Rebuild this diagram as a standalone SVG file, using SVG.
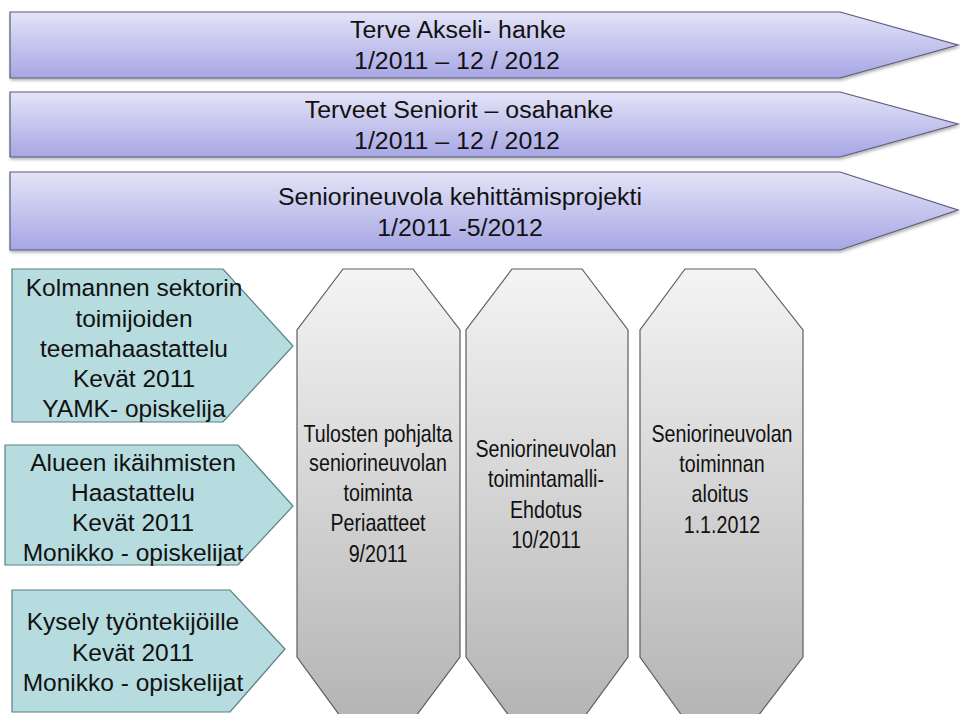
<svg xmlns="http://www.w3.org/2000/svg" width="960" height="714" viewBox="0 0 960 714">
<defs>
<linearGradient id="gBan" x1="0" y1="0" x2="0" y2="1">
<stop offset="0" stop-color="#e4e4f8"/>
<stop offset="1" stop-color="#a6a6e4"/>
</linearGradient>
<linearGradient id="gOct" x1="0" y1="0" x2="0" y2="1">
<stop offset="0" stop-color="#f4f4f4"/>
<stop offset="1" stop-color="#b4b4b4"/>
</linearGradient>
<filter id="sh" x="-5%" y="-10%" width="110%" height="130%">
<feDropShadow dx="1" dy="2" stdDeviation="1.5" flood-color="#000" flood-opacity="0.3"/>
</filter>
</defs>
<style>
.ban{fill:url(#gBan);stroke:#5a5a7a;stroke-width:1.2;filter:url(#sh)}
.tea{fill:#b6dcdf;stroke:#5c7e82;stroke-width:1.2}
.oct{fill:url(#gOct);stroke:#5e5e5e;stroke-width:1.2}
.tb{font-family:"Liberation Sans",Arial,sans-serif;font-size:23.5px;fill:#111;text-anchor:middle}
.to{font-family:"Liberation Sans",Arial,sans-serif;font-size:24px;fill:#111;text-anchor:middle}
.tw{font-family:"Liberation Sans",Arial,sans-serif;font-size:24.5px;fill:#111;text-anchor:middle}
</style>
<rect width="960" height="714" fill="#fff"/>
<g id="banner1">
<polygon class="ban" points="10,12 840,12 958,45 840,78 10,78"/>
<text class="tb" transform="translate(458,38) scale(1.06,1)">Terve Akseli- hanke</text>
<text class="tb" transform="translate(457,69) scale(1.06,1)">1/2011 – 12 / 2012</text>
</g>
<g id="banner2">
<polygon class="ban" points="10,92 840,92 958,124 840,157 10,157"/>
<text class="tb" transform="translate(459,118) scale(1.06,1)">Terveet Seniorit – osahanke</text>
<text class="tb" transform="translate(457,149) scale(1.06,1)">1/2011 – 12 / 2012</text>
</g>
<g id="banner3">
<polygon class="ban" points="10,172 840,172 958,210 840,250 10,250"/>
<text class="tb" transform="translate(460,205) scale(1.06,1)">Seniorineuvola kehittämisprojekti</text>
<text class="tb" transform="translate(460,236) scale(1.06,1)">1/2011 -5/2012</text>
</g>
<g id="input1">
<polygon class="tea" points="12,269 223,269 293,346 223,422 12,422"/>
<text class="tw" x="134" y="296">Kolmannen sektorin</text>
<text class="tw" x="134" y="327">toimijoiden</text>
<text class="tw" x="134" y="357">teemahaastattelu</text>
<text class="tw" x="134" y="387">Kevät 2011</text>
<text class="tw" x="134" y="417">YAMK- opiskelija</text>
</g>
<g id="input2">
<polygon class="tea" points="5,445 238,445 293,506 238,565 5,565"/>
<text class="tw" x="133" y="471">Alueen ikäihmisten</text>
<text class="tw" x="133" y="501">Haastattelu</text>
<text class="tw" x="133" y="531">Kevät 2011</text>
<text class="tw" x="133" y="561">Monikko - opiskelijat</text>
</g>
<g id="input3">
<polygon class="tea" points="12,590 230,590 285,649 230,712 12,712"/>
<text class="tw" x="133" y="630">Kysely työntekijöille</text>
<text class="tw" x="133" y="661">Kevät 2011</text>
<text class="tw" x="133" y="691">Monikko - opiskelijat</text>
</g>
<g id="step1">
<polygon class="oct" points="343,269 413,269 460,330 460,657 413,720 343,720 297,657 297,330"/>
<text class="to" transform="translate(378,442) scale(0.82,1)">Tulosten pohjalta</text>
<text class="to" transform="translate(378,471) scale(0.82,1)">seniorineuvolan</text>
<text class="to" transform="translate(378,501) scale(0.82,1)">toiminta</text>
<text class="to" transform="translate(378,531) scale(0.82,1)">Periaatteet</text>
<text class="to" transform="translate(378,562) scale(0.82,1)">9/2011</text>
</g>
<g id="step2">
<polygon class="oct" points="512,269 582,269 628,330 628,657 582,720 512,720 466,657 466,330"/>
<text class="to" transform="translate(546,457) scale(0.82,1)">Seniorineuvolan</text>
<text class="to" transform="translate(546,487) scale(0.82,1)">toimintamalli-</text>
<text class="to" transform="translate(546,518) scale(0.82,1)">Ehdotus</text>
<text class="to" transform="translate(546,548) scale(0.82,1)">10/2011</text>
</g>
<g id="step3">
<polygon class="oct" points="685,269 755,269 803,330 803,657 755,720 685,720 640,657 640,330"/>
<text class="to" transform="translate(722,442) scale(0.82,1)">Seniorineuvolan</text>
<text class="to" transform="translate(722,472) scale(0.82,1)">toiminnan</text>
<text class="to" transform="translate(720,502) scale(0.82,1)">aloitus</text>
<text class="to" transform="translate(722,533) scale(0.82,1)">1.1.2012</text>
</g>
</svg>
